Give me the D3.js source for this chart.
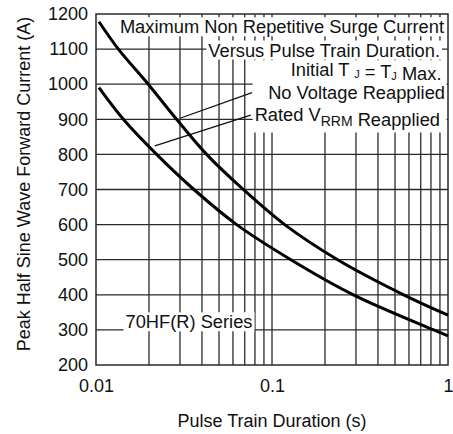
<!DOCTYPE html>
<html>
<head>
<meta charset="utf-8">
<script src="https://cdn.jsdelivr.net/npm/d3@7"></script>
<style>
  html, body { margin: 0; padding: 0; background: #fff; }
  svg { display: block; }
  text { font-family: "Liberation Sans", Arial, Helvetica, sans-serif; fill: #111; }
</style>
</head>
<body>
<svg id="chart" width="453" height="434"></svg>
<script>
// ---- data ----
const xTickValues = [0.01, 0.1, 1];
const xTickLabels = ["0.01", "0.1", "1"];
const yTickValues = [200, 300, 400, 500, 600, 700, 800, 900, 1000, 1100, 1200];
const xGridValues = [0.02, 0.03, 0.04, 0.05, 0.06, 0.07, 0.08, 0.09, 0.1, 0.2, 0.3, 0.4, 0.5, 0.6, 0.7, 0.8, 0.9];
const yGridValues = [300, 400, 500, 600, 700, 800, 900, 1000, 1100];

// No Voltage Reapplied
const noVoltageT = [0.0104, 0.0134, 0.0198, 0.0287, 0.0425, 0.0687, 0.118, 0.236, 0.56, 1];
const noVoltageI = [1178, 1100, 1000, 900, 800, 700, 600, 500, 400, 342];
// Rated VRRM Reapplied
const ratedT = [0.0104, 0.0143, 0.0221, 0.036, 0.063, 0.128, 0.29, 0.83, 1];
const ratedI = [990, 900, 800, 700, 600, 500, 400, 300, 283];

// leader lines (data coordinates)
const leaderNoVoltage = [[0.030, 903], [0.077, 976]];
const leaderRated = [[0.0216, 824], [0.0757, 912]];

const xLabel = "Pulse Train Duration (s)";
const yLabel = "Peak Half Sine Wave Forward Current (A)";

// ---- layout ----
const svg = d3.select("#chart");
const L = 96, R = 448, T = 14, B = 365;
const x = d3.scaleLog().domain([0.01, 1]).range([L, R]);
const y = d3.scaleLinear().domain([200, 1200]).range([B, T]);
const FS = 18;
const FA = 18.3;
const gridColor = "#2a2a2a";

// grid
const grid = svg.append("g");
grid.selectAll("line.v").data(xGridValues).enter().append("line")
  .attr("x1", d => x(d)).attr("x2", d => x(d))
  .attr("y1", T).attr("y2", B)
  .attr("stroke", gridColor).attr("stroke-width", 1.3);
grid.selectAll("line.h").data(yGridValues).enter().append("line")
  .attr("x1", L).attr("x2", R)
  .attr("y1", d => y(d)).attr("y2", d => y(d))
  .attr("stroke", gridColor).attr("stroke-width", 1.3);

// annotation layer (masks + text)
const ann = svg.append("g");
const maskLayer = ann.append("g");
const textLayer = ann.append("g").style("font-size", FA + "px");

function addLine(parts, xEnd, yBase) {
  const t = textLayer.append("text").attr("x", xEnd).attr("y", yBase).attr("text-anchor", "end");
  parts.forEach(p => {
    if (typeof p === "string") t.append("tspan").text(p);
    else t.append("tspan").attr("font-size", p.fs + "px").attr("dy", p.dy).text(p.t);
  });
  return t;
}

const l1 = addLine(["Maximum Non Repetitive Surge Current"], 444, 33.3);
const l2 = addLine(["Versus Pulse Train Duration."], 440, 56.5);
const l3 = addLine(["Initial T ", {t: "J", dy: 2, fs: 11}, {t: "", dy: -2, fs: 11}, " = T", {t: "J", dy: 2, fs: 11}, {t: "", dy: -2, fs: 11}, " Max."], 441.5, 76.3);
const l4 = addLine(["No Voltage Reapplied"], 445, 99.3);
const l5 = addLine(["Rated V", {t: "RRM", dy: 5, fs: 14}, {t: "", dy: -5, fs: 14}, " Reapplied"], 440, 120.5);
const l6 = textLayer.append("text").attr("x", 125.5).attr("y", 328.3).attr("text-anchor", "start").text("70HF(R) Series");

function bb(sel) { return sel.node().getBBox(); }
function mask(x0, y0, x1, y1) {
  maskLayer.append("rect").attr("x", x0).attr("y", y0).attr("width", x1 - x0).attr("height", y1 - y0).attr("fill", "#fff");
}
[l1, l2, l6].forEach(s => { const b = bb(s); mask(b.x - 2, b.y + 1, b.x + b.width + 2, b.y + b.height - 1); });
{
  const b3 = bb(l3), b4 = bb(l4), b5 = bb(l5);
  const x0 = Math.min(b3.x, b4.x, b5.x) - 2;
  mask(x0, b3.y + 1, 446.5, b5.y + b5.height + 3);
}

// leader lines
svg.append("g").selectAll("line").data([leaderNoVoltage, leaderRated]).enter().append("line")
  .attr("x1", d => x(d[0][0])).attr("y1", d => y(d[0][1]))
  .attr("x2", d => x(d[1][0])).attr("y2", d => y(d[1][1]))
  .attr("stroke", "#111").attr("stroke-width", 1.3);

// frame
svg.append("rect").attr("x", L).attr("y", T).attr("width", R - L).attr("height", B - T)
  .attr("fill", "none").attr("stroke", gridColor).attr("stroke-width", 1.5);

// curves
const line = d3.line().x(d => x(d[0])).y(d => y(d[1])).curve(d3.curveCatmullRom.alpha(0.5));
svg.append("path").datum(noVoltageT.map((t, i) => [t, noVoltageI[i]]))
  .attr("d", line).attr("fill", "none").attr("stroke", "#000").attr("stroke-width", 3);
svg.append("path").datum(ratedT.map((t, i) => [t, ratedI[i]]))
  .attr("d", line).attr("fill", "none").attr("stroke", "#000").attr("stroke-width", 3);

// axes
const yAxis = d3.axisLeft(y).tickValues(yTickValues).tickSize(0).tickPadding(8).tickFormat(d3.format("d"));
const gy = svg.append("g").attr("transform", `translate(${L},0)`).call(yAxis);
gy.select(".domain").remove();
gy.attr("font-family", null);
gy.selectAll("text").style("font-size", FS + "px").attr("fill", "#111");

const xAxis = d3.axisBottom(x).tickValues(xTickValues).tickSize(0).tickPadding(14)
  .tickFormat((d, i) => xTickLabels[i]);
const gx = svg.append("g").attr("transform", `translate(0,${B})`).call(xAxis);
gx.select(".domain").remove();
gx.attr("font-family", null);
gx.selectAll("text").style("font-size", FS + "px").attr("fill", "#111");

// axis titles
svg.append("text").attr("x", 272).attr("y", 426.5).attr("text-anchor", "middle")
  .style("font-size", FS + "px").text(xLabel);
svg.append("text").attr("transform", "translate(29.5,184) rotate(-90)").attr("text-anchor", "middle")
  .style("font-size", FS + "px").text(yLabel);
</script>
</body>
</html>
